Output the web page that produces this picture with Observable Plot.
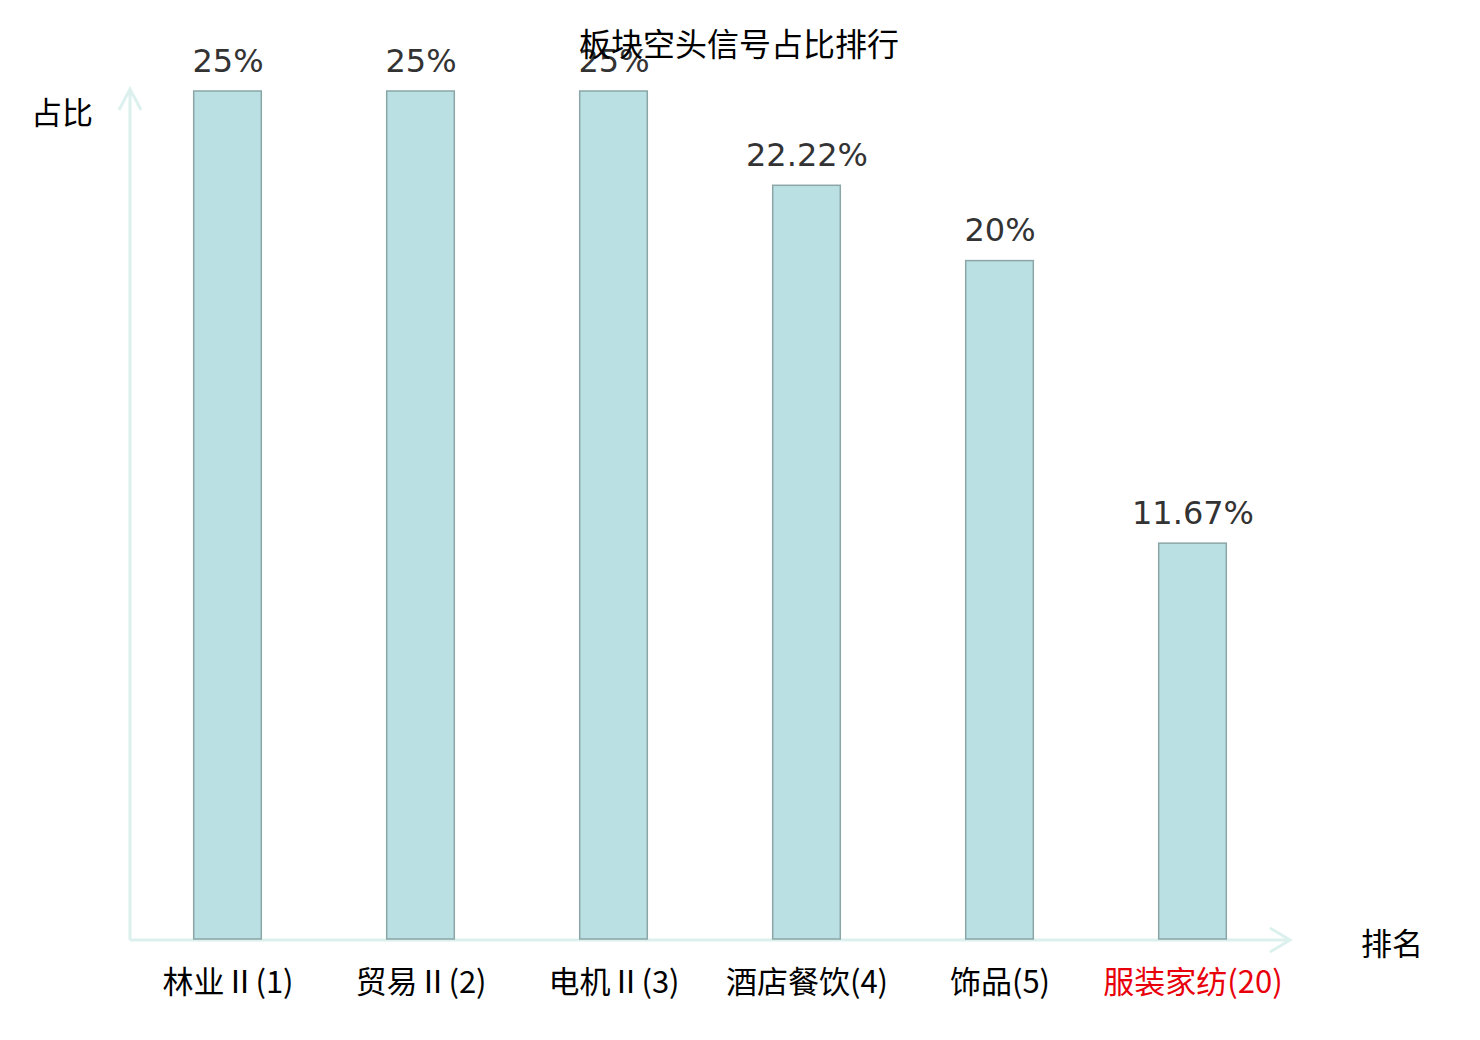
<!DOCTYPE html>
<html>
<head>
<meta charset="utf-8">
<script src="https://cdn.jsdelivr.net/npm/d3@7"></script>
<script src="https://cdn.jsdelivr.net/npm/@observablehq/plot@0.6"></script>
<style>
  html, body { margin: 0; padding: 0; background: #fff; }
  #wrap { position: relative; width: 1480px; height: 1040px; }
  .lbl { position: absolute; font-family: "Noto Sans CJK SC", sans-serif; color: #000; white-space: nowrap; line-height: 1; }
  #title { left: 739px; top: 42px; transform: translate(-50%, -50%); font-size: 32px; }
  #ylab { left: 62px; top: 110px; transform: translate(-50%, -50%); font-size: 31px; }
  #xlab { left: 1392px; top: 941px; transform: translate(-50%, -50%); font-size: 31px; }
</style>
</head>
<body>
<div id="wrap">
  <div id="chart"></div>
  <div class="lbl" id="title">板块空头信号占比排行</div>
  <div class="lbl" id="ylab">占比</div>
  <div class="lbl" id="xlab">排名</div>
</div>
<script>
const categories = ["林业Ⅱ(1)", "贸易Ⅱ(2)", "电机Ⅱ(3)", "酒店餐饮(4)", "饰品(5)", "服装家纺(20)"];
const values = [25, 25, 25, 22.22, 20, 11.67];
const valueLabels = ["25%", "25%", "25%", "22.22%", "20%", "11.67%"];
const highlighted = [false, false, false, false, false, true];

const data = categories.map((c, i) => ({name: c, value: values[i], label: valueLabels[i], hi: highlighted[i]}));

const axesMark = (index, scales, vals, dims) => {
  const {width, height, marginLeft, marginRight, marginTop, marginBottom} = dims;
  const x0 = marginLeft, y0 = height - marginBottom + 1, yTop = marginTop - 2, xEnd = width - marginRight;
  const g = d3.create("svg:g");
  g.append("path")
    .attr("d", `M${x0},${y0}V${yTop}M${x0 - 11},${yTop + 21}L${x0},${yTop}L${x0 + 11},${yTop + 21}` +
               `M${x0},${y0}H${xEnd}M${xEnd - 20},${y0 - 12}L${xEnd},${y0}L${xEnd - 20},${y0 + 12}`)
    .attr("stroke", "#dcf1ee")
    .attr("stroke-width", 3)
    .attr("fill", "none");
  return g.node();
};

const chart = Plot.plot({
  width: 1480,
  height: 1040,
  marginLeft: 130,
  marginRight: 190,
  marginTop: 91,
  marginBottom: 101,
  style: {background: "transparent"},
  x: {domain: categories, padding: 0, axis: null},
  y: {domain: [0, 25], axis: null},
  marks: [
    axesMark,
    Plot.barY(data, {x: "name", y: "value", fill: "#bbe0e3", stroke: "#8ba6a6", strokeWidth: 1.5, insetLeft: 62.7, insetRight: 62.7}),
    Plot.text(data, {x: "name", y: "value", text: "label", dy: -30, fontSize: 32, fill: "#333",
      fontFamily: "DejaVu Sans, sans-serif", lineAnchor: "middle"}),
    Plot.text(data, {x: "name", text: "name", frameAnchor: "bottom", dy: 44, fontSize: 31, lineAnchor: "middle",
      fontFamily: "Noto Sans CJK SC, sans-serif", fill: d => d.hi ? "#e8000b" : "#000"})
  ]
});
document.getElementById("chart").appendChild(chart);
</script>
</body>
</html>
